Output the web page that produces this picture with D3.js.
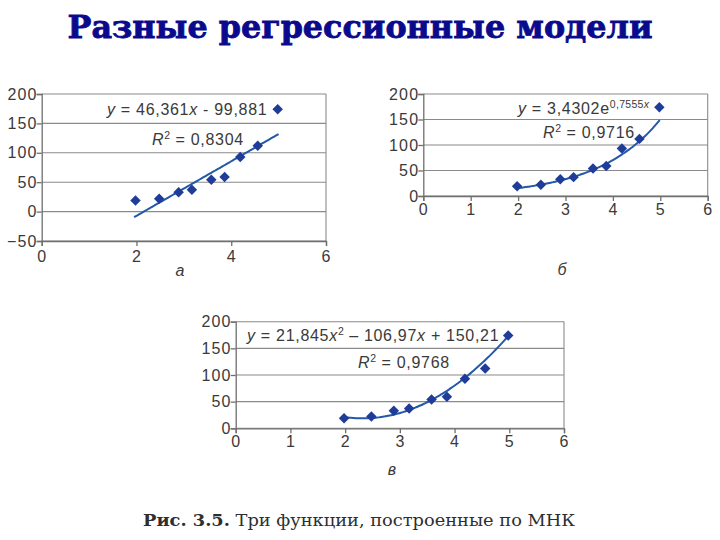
<!DOCTYPE html>
<html><head><meta charset="utf-8">
<script src="https://cdn.jsdelivr.net/npm/d3@7"></script>
<style>body{margin:0;background:#fff}svg{display:block}</style>
</head><body>
<svg id="c" width="720" height="540"></svg>
<script>
// Data (same observations shown in all three panels)
const xValues = [1.98, 2.48, 2.89, 3.17, 3.58, 3.86, 4.19, 4.56, 4.98];
const yValues = [19, 22, 33, 37, 54, 59, 93, 112, 174];
// Fitted models (coefficients from the trendline labels)
const linearCoef = [46.361, -99.881];
const expCoef = [3.4302, 0.7555];
const quadCoef = [21.845, -106.97, 150.21];
// quadratic trendline as it is drawn in the picture
const quadDrawn = [21.845, -101.5, 136.6];
const panelLabels = ["а", "б", "в"];
const titleText = "Разные регрессионные модели";
const captionBold = "Рис. 3.5.";
const captionText = " Три функции, построенные по МНК";

const svg = d3.select("#c");
const pts = xValues.map((x, i) => ({x, y: yValues[i]}));

const panels = [
  {fn: x => linearCoef[0]*x + linearCoef[1], xr:[41.7,326], yd:[-50,200], yr:[241,94], xt:[0,2,4,6], fit:[1.95,5.0],
   eq:[{x:107,y:115,parts:[["y","i"],[" = 46,361",""],["x","i"],[" - 99,881",""]]},
       {x:152,y:145,parts:[["R","i"],["2","sup"],[" = 0,8304",""]]}], lab:{x:180,y:276}, xly:262},
  {fn: x => expCoef[0]*Math.exp(expCoef[1]*x), xr:[423.3,707.7], yd:[0,200], yr:[196,94], xt:[0,1,2,3,4,5,6], fit:[1.95,4.99],
   eq:[{x:518,y:114,parts:[["y","i"],[" = 3,4302",""],["e",""],["0,7555","sup"],["x","supi"]]},
       {x:543,y:138,parts:[["R","i"],["2","sup"],[" = 0,9716",""]]}], lab:{x:562,y:275}, xly:215},
  {fn: x => quadDrawn[0]*x*x + quadDrawn[1]*x + quadDrawn[2], xr:[235.7,564], yd:[0,200], yr:[428.3,321.7], xt:[0,1,2,3,4,5,6], fit:[1.95,5.0],
   eq:[{x:247,y:341,parts:[["y","i"],[" = "+String(quadCoef[0]).replace(".",","),""],["x","i"],["2","sup"],[" \u2013 "+String(-quadCoef[1]).replace(".",","),""],["x","i"],[" + "+String(quadCoef[2]).replace(".",","),""]]},
       {x:358,y:368,parts:[["R","i"],["2","sup"],[" = 0,9768",""]]}], lab:{x:392,y:475}, xly:447}
];

const txtCol = "#3a3a3a";
const font = "'Liberation Sans', Arial, sans-serif";

panels.forEach((p, k) => {
  const x = d3.scaleLinear().domain([0,6]).range(p.xr);
  const y = d3.scaleLinear().domain(p.yd).range(p.yr);
  const g = svg.append("g");
  const yt = d3.range(p.yd[0], p.yd[1]+1, 50);
  g.selectAll(".gl").data(yt).join("line")
    .attr("x1", x(0)).attr("x2", x(6)).attr("y1", d=>y(d)).attr("y2", d=>y(d))
    .attr("stroke", "#8a8a8a").attr("stroke-width", 1.1);
  g.append("line").attr("x1", x(6)).attr("x2", x(6)).attr("y1", y(p.yd[1])).attr("y2", y(p.yd[0]))
    .attr("stroke", "#8a8a8a").attr("stroke-width", 1.1);
  const ax = g.append("g").attr("transform", `translate(0,${y(p.yd[0])})`)
    .call(d3.axisBottom(x).tickValues(p.xt).tickSize(5).tickFormat(""));
  const ay = g.append("g").attr("transform", `translate(${x(0)},0)`)
    .call(d3.axisLeft(y).tickValues(yt).tickSize(5).tickFormat(""));
  [ax, ay].forEach(a => { a.selectAll("path,line").attr("stroke", "#6f6f6f").attr("stroke-width", 1.3); });
  g.selectAll(".yl").data(yt).join("text")
    .attr("x", x(0) - 4).attr("y", d => y(d) + 5.5).attr("text-anchor", "end")
    .attr("font-family", font).attr("font-size", 16).attr("letter-spacing", 1.2).attr("fill", txtCol)
    .text(d => d < 0 ? "\u2212" + Math.abs(d) : d);
  g.selectAll(".xl").data(p.xt).join("text")
    .attr("x", d => x(d)).attr("y", p.xly).attr("text-anchor", "middle")
    .attr("font-family", font).attr("font-size", 16).attr("fill", txtCol).text(d => d);
  const xs = d3.range(0, 61).map(i => p.fit[0] + (p.fit[1]-p.fit[0])*i/60);
  g.append("path").datum(xs)
    .attr("d", d3.line().x(d => x(d)).y(d => y(p.fn(d))).curve(d3.curveMonotoneX))
    .attr("fill", "none").attr("stroke", "#2458a8").attr("stroke-width", 2);
  g.selectAll(".pt").data(pts).join("path")
    .attr("d", d3.symbol(d3.symbolSquare, 55))
    .attr("transform", d => `translate(${x(d.x)},${y(d.y)}) rotate(45)`)
    .attr("fill", "#1f3c98");
  p.eq.forEach(e => {
    const t = g.append("text").attr("x", e.x).attr("y", e.y)
      .attr("font-family", font).attr("font-size", 16).attr("letter-spacing", 0.7).attr("fill", txtCol);
    e.parts.forEach(([s, st]) => {
      const ts = t.append("tspan").text(s);
      if (st === "i" || st === "supi") ts.attr("font-style", "italic");
      if (st === "sup" || st === "supi") ts.attr("font-size", 10.5).attr("baseline-shift", "6").attr("letter-spacing", 0.3);
    });
  });
  g.append("text").attr("x", p.lab.x).attr("y", p.lab.y).attr("text-anchor", "middle")
    .attr("font-family", font).attr("font-size", 16).attr("font-style", "italic").attr("fill", txtCol)
    .text(panelLabels[k]);
});

svg.append("text").attr("x", 360).attr("y", 38).attr("text-anchor", "middle")
  .attr("font-family", "'DejaVu Serif', serif").attr("font-weight", "bold").attr("font-size", 32)
  .attr("fill", "#0a0a8c").attr("stroke", "#0a0a8c").attr("stroke-width", 0.8)
  .attr("textLength", 585).attr("lengthAdjust", "spacingAndGlyphs")
  .text(titleText);
const cap = svg.append("text").attr("x", 143).attr("y", 526)
  .attr("font-family", "'DejaVu Serif', serif").attr("font-size", 16).attr("fill", "#2e2e2e")
  .attr("textLength", 432).attr("lengthAdjust", "spacingAndGlyphs");
cap.append("tspan").attr("font-weight", "bold").text(captionBold);
cap.append("tspan").text(captionText);
</script>
</body></html>
